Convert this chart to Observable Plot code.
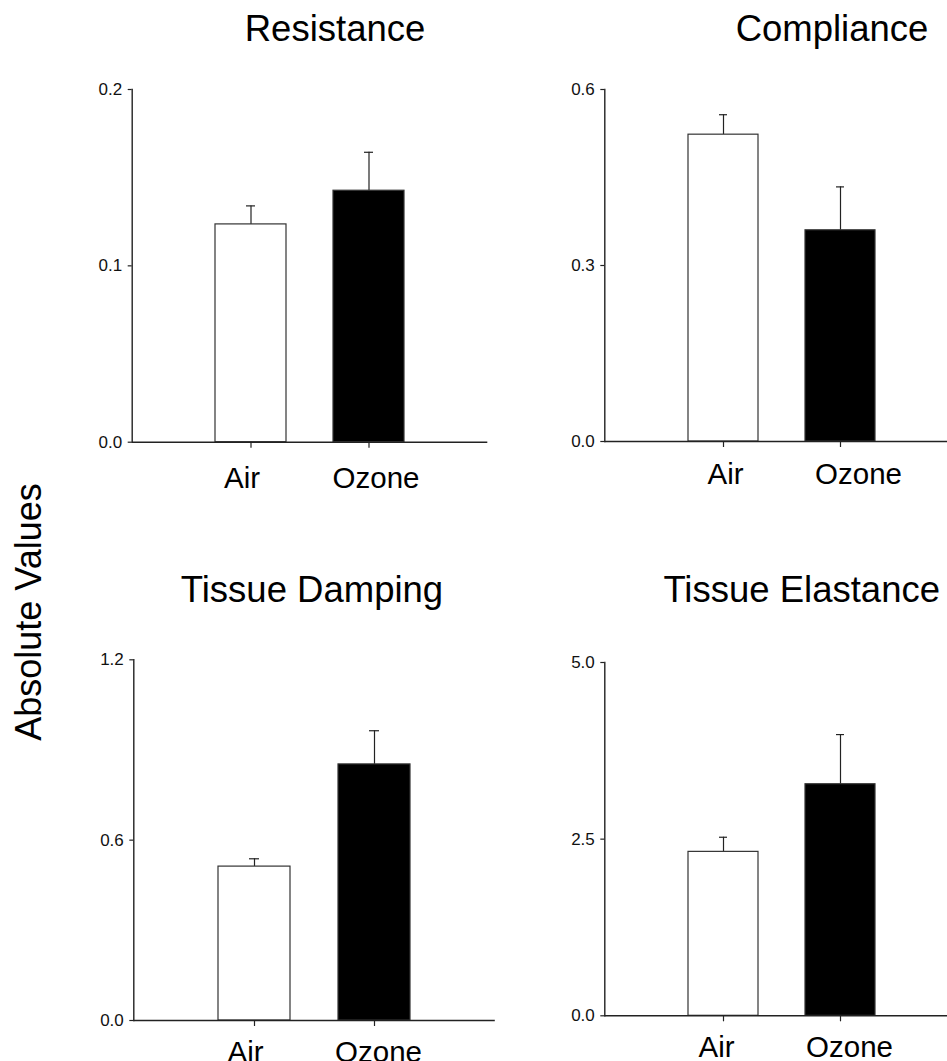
<!DOCTYPE html>
<html>
<head>
<meta charset="utf-8">
<script src="https://cdn.jsdelivr.net/npm/d3@7"></script>
<script src="https://cdn.jsdelivr.net/npm/@observablehq/plot@0.6"></script>
<style>
  html, body { margin: 0; padding: 0; background: white; overflow: hidden; }
  #root { position: relative; width: 947px; height: 1061px; overflow: hidden; background: white;
          font-family: "Liberation Sans", Arial, Helvetica, sans-serif; color: black; }
  .panel { position: absolute; }
  .panel svg { overflow: visible; max-width: none; }
  .title { position: absolute; width: 400px; text-align: center; font-size: 36.5px; line-height: 1; white-space: nowrap; }
  #ylab { position: absolute; font-size: 36px; line-height: 1; white-space: nowrap; transform-origin: center center; }
</style>
</head>
<body>
<div id="root"></div>
<script>
// ---------- data ----------
const categories = ["Air", "Ozone"];
const panelTitles = ["Resistance", "Compliance", "Tissue Damping", "Tissue Elastance"];
const yAxisLabel = "Absolute Values";

const resistanceMean = [0.1235, 0.1426];
const resistanceErr  = [0.0105, 0.0218];
const complianceMean = [0.523, 0.360];
const complianceErr  = [0.034, 0.074];
const dampingMean    = [0.512, 0.852];
const dampingErr     = [0.026, 0.112];
const elastanceMean  = [2.32, 3.277];
const elastanceErr   = [0.207, 0.703];

const resistanceTicks = [0, 0.1, 0.2];
const complianceTicks = [0, 0.3, 0.6];
const dampingTicks    = [0, 0.6, 1.2];
const elastanceTicks  = [0, 2.5, 5.0];

// ---------- layout (positions / styles) ----------
const layout = [
  {left: 0,   top: 0,   width: 500, height: 530, mL: 131.7, mR: 12.7, mT: 89,    mB: 88.3, pad: 25, dx: [-9, 7],  tx: 335,   ty: 10.8},
  {left: 480, top: 0,   width: 478, height: 530, mL: 124.3, mR: 0,    mT: 89,    mB: 89,   pad: 22, dx: [2, 18],  tx: 832,   ty: 10.8},
  {left: 0,   top: 530, width: 500, height: 531, mL: 133.3, mR: 5.2,  mT: 129.3, mB: 41,   pad: 21, dx: [-9, 4],  tx: 312,   ty: 571.8},
  {left: 480, top: 530, width: 478, height: 531, mL: 124.3, mR: 0,    mT: 132,   mB: 45.7, pad: 20, dx: [-7, 9],  tx: 801.7, ty: 571.8}
];
const series = [
  [resistanceMean, resistanceErr, resistanceTicks],
  [complianceMean, complianceErr, complianceTicks],
  [dampingMean, dampingErr, dampingTicks],
  [elastanceMean, elastanceErr, elastanceTicks]
];

const ink = "#222";
const root = document.getElementById("root");

series.forEach(([means, errs, ticks], k) => {
  const L = layout[k];
  const data = categories.map((c, i) => ({group: c, mean: means[i], upper: means[i] + errs[i]}));
  const chart = Plot.plot({
    width: L.width,
    height: L.height,
    marginLeft: L.mL, marginRight: L.mR, marginTop: L.mT, marginBottom: L.mB,
    style: {fontFamily: "'Liberation Sans', Arial, Helvetica, sans-serif", fontSize: "17px", background: "transparent", overflow: "visible", color: "black"},
    x: {domain: categories, paddingInner: 0.4, paddingOuter: 0.7, axis: null},
    y: {domain: [0, ticks[ticks.length - 1]], axis: null},
    color: {domain: categories, range: ["white", "black"]},
    marks: [
      Plot.ruleX(data, {x: "group", y1: "mean", y2: "upper", stroke: ink, strokeWidth: 1.2}),
      Plot.tickY(data, {x: "group", y: "upper", insetLeft: 31, insetRight: 31, stroke: ink, strokeWidth: 1.2}),
      Plot.barY(data, {x: "group", y: "mean", fill: "group", stroke: "#333", strokeWidth: 1.2}),
      Plot.axisY(ticks, {tickSize: 4, tickPadding: 6, fontSize: 17, label: null, tickFormat: d3.format(".1f"), stroke: ink, strokeWidth: 1.2, fill: "#111"}),
      Plot.frame({anchor: "left", stroke: ink, strokeWidth: 1.4}),
      Plot.ruleY([0], {stroke: ink, strokeWidth: 1.4}),
      Plot.axisX({tickSize: 6, text: null, label: null, stroke: ink, strokeWidth: 1.2}),
      ...categories.map((c, i) => Plot.axisX([c], {tickSize: 0, tickPadding: L.pad, dx: L.dx[i], fontSize: 29.5, label: null, fill: "black"}))
    ]
  });
  const holder = document.createElement("div");
  holder.className = "panel";
  holder.style.left = L.left + "px";
  holder.style.top = L.top + "px";
  holder.appendChild(chart);
  root.appendChild(holder);

  const t = document.createElement("div");
  t.className = "title";
  t.textContent = panelTitles[k];
  t.style.left = (L.tx - 200) + "px";
  t.style.top = L.ty + "px";
  root.appendChild(t);
});

const yl = document.createElement("div");
yl.id = "ylab";
yl.textContent = yAxisLabel;
root.appendChild(yl);
const w = yl.offsetWidth, h = yl.offsetHeight;
yl.style.left = (29 - w / 2) + "px";
yl.style.top = (612 - h / 2) + "px";
yl.style.transform = "rotate(-90deg)";
</script>
</body>
</html>
